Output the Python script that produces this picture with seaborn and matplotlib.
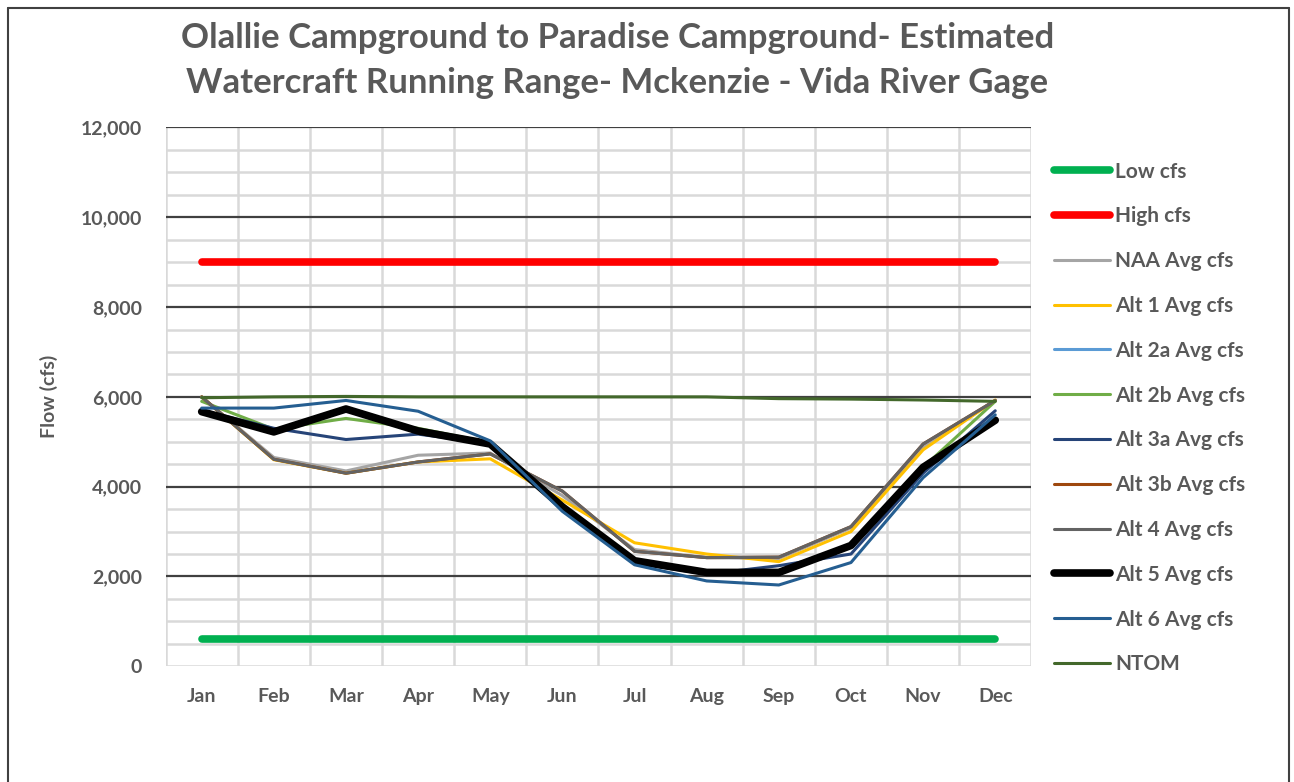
import pandas as pd
import seaborn as sns
import matplotlib.pyplot as plt
from matplotlib.lines import Line2D
from matplotlib.ticker import MultipleLocator, FuncFormatter

sns.set_style("white")
plt.rcParams['font.family'] = ['Lato', 'DejaVu Sans']

months = ['Jan', 'Feb', 'Mar', 'Apr', 'May', 'Jun', 'Jul', 'Aug', 'Sep', 'Oct', 'Nov', 'Dec']

low_cfs = [600] * 12
high_cfs = [9000] * 12
naa = [6000, 4650, 4350, 4700, 4750, 3800, 2600, 2420, 2400, 3080, 4880, 5920]
alt1 = [6000, 4600, 4300, 4550, 4620, 3700, 2750, 2500, 2330, 3000, 4820, 5930]
alt2a = [5680, 5230, 5720, 5250, 4960, 3550, 2350, 2090, 2090, 2690, 4420, 5480]
alt2b = [5900, 5280, 5520, 5300, 4980, 3550, 2350, 2090, 2090, 2700, 4430, 5900]
alt3a = [5700, 5300, 5050, 5170, 4960, 3500, 2300, 2050, 2240, 2500, 4300, 5690]
alt3b = [6000, 4610, 4300, 4550, 4730, 3900, 2560, 2420, 2430, 3110, 4950, 5920]
alt4 = [6000, 4610, 4300, 4550, 4730, 3900, 2560, 2420, 2430, 3110, 4950, 5920]
alt5 = [5670, 5220, 5730, 5240, 4950, 3550, 2350, 2090, 2090, 2690, 4430, 5480]
alt6 = [5750, 5750, 5920, 5680, 5020, 3450, 2260, 1900, 1810, 2310, 4200, 5600]
ntom = [5980, 6000, 6010, 6000, 6000, 6000, 6000, 6000, 5960, 5950, 5930, 5900]

series = [
    ('Low cfs', low_cfs, '#00B050', 5.5),
    ('High cfs', high_cfs, '#FF0000', 5.5),
    ('NAA Avg cfs', naa, '#A5A5A5', 2.2),
    ('Alt 1 Avg cfs', alt1, '#FFC000', 2.2),
    ('Alt 2a Avg cfs', alt2a, '#5B9BD5', 2.2),
    ('Alt 2b Avg cfs', alt2b, '#70AD47', 2.2),
    ('Alt 3a Avg cfs', alt3a, '#264478', 2.2),
    ('Alt 3b Avg cfs', alt3b, '#9E480E', 2.2),
    ('Alt 4 Avg cfs', alt4, '#636363', 2.2),
    ('Alt 5 Avg cfs', alt5, '#000000', 5.5),
    ('Alt 6 Avg cfs', alt6, '#255E91', 2.2),
    ('NTOM', ntom, '#43682B', 2.2),
]

txt = '#595959'

fig = plt.figure(figsize=(12.94, 7.82), dpi=100)
ax = fig.add_axes([0.128, 0.148, 0.669, 0.689])

handles = []
for name, vals, col, lw in series:
    df = pd.DataFrame({'month': months, 'cfs': vals})
    sns.lineplot(data=df, x='month', y='cfs', ax=ax, color=col, linewidth=lw,
                 solid_capstyle='round', sort=False, zorder=3)
    handles.append(Line2D([0], [0], color=col, linewidth=lw, solid_capstyle='round'))

ax.set_xlim(-0.5, 11.5)
ax.set_ylim(0, 12000)

# grid: light vertical at category boundaries, light minor every 500, dark major every 2000
for xb in [i - 0.5 for i in range(13)]:
    ax.axvline(xb, color='#D9D9D9', linewidth=1.8, zorder=1)
for yv in range(500, 12000, 500):
    if yv % 2000:
        ax.axhline(yv, color='#D9D9D9', linewidth=1.8, zorder=1)
for yv in range(2000, 12001, 2000):
    ax.axhline(yv, color='#404040', linewidth=1.6, zorder=2)
ax.axhline(0, color='#D9D9D9', linewidth=1.8, zorder=2)

for s in ax.spines.values():
    s.set_visible(False)

ax.yaxis.set_major_locator(MultipleLocator(2000))
ax.yaxis.set_major_formatter(FuncFormatter(lambda v, p: f'{int(v):,}'))
ax.tick_params(axis='both', length=0, labelsize=14, labelcolor=txt)
ax.tick_params(axis='y', pad=17)
ax.tick_params(axis='x', pad=16)
for lab in ax.get_xticklabels() + ax.get_yticklabels():
    lab.set_fontweight('bold')

ax.set_xlabel('')
ax.set_ylabel('Flow (cfs)', fontsize=14, fontweight='bold', color=txt, labelpad=16)

fig.text(0.477, 0.951, 'Olallie Campground to Paradise Campground- Estimated',
         ha='center', va='center', fontsize=25, fontweight='bold', color=txt)
fig.text(0.477, 0.894, 'Watercraft Running Range- Mckenzie - Vida River Gage',
         ha='center', va='center', fontsize=25, fontweight='bold', color=txt)

leg = fig.legend(handles, [s[0] for s in series], loc='upper left',
                 bbox_to_anchor=(0.808, 0.804), frameon=False, fontsize=15,
                 handlelength=2.7, handletextpad=0.25, labelspacing=1.19,
                 borderaxespad=0)
for t in leg.get_texts():
    t.set_color(txt)
    t.set_fontweight('bold')

# chart border (left, top, right)
fig.add_artist(Line2D([0.0065, 0.0065], [0.0, 0.99], color='#404040', linewidth=1.5))
fig.add_artist(Line2D([0.0065, 0.9965], [0.99, 0.99], color='#404040', linewidth=1.5))
fig.add_artist(Line2D([0.9965, 0.9965], [0.0, 0.99], color='#404040', linewidth=1.5))

fig.savefig('out.png', dpi=100)
